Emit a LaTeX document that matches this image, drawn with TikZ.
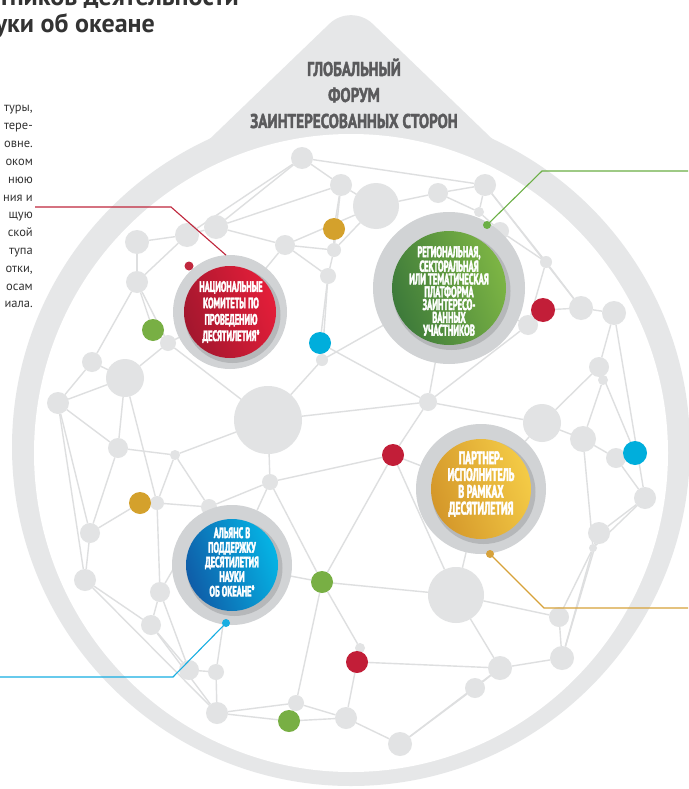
\documentclass[tikz,border=0pt]{standalone}
\usepackage{fontspec}
\setmainfont{PT Sans}
\newfontfamily\cndA{PT Sans Bold}[FakeStretch=0.76, FakeBold=2]
\newfontfamily\cndB{PT Sans Bold}[FakeStretch=0.55, FakeBold=2.5]
\newfontfamily\ttlfont{PT Sans Bold}
\definecolor{band}{HTML}{E6E7E8}
\definecolor{edgec}{HTML}{DEDFE0}
\definecolor{nodec}{HTML}{E2E3E4}
\definecolor{ringc}{HTML}{D1D3D5}
\definecolor{shadowc}{HTML}{9A9C9F}
\definecolor{darktext}{HTML}{333333}
\definecolor{peaktext}{HTML}{5A5A5C}
\definecolor{redA}{HTML}{A3172E}\definecolor{redB}{HTML}{E41E39}
\definecolor{greenA}{HTML}{3D7A3A}\definecolor{greenB}{HTML}{7DB544}
\definecolor{goldA}{HTML}{D4972A}\definecolor{goldB}{HTML}{F4CB46}
\definecolor{blueA}{HTML}{0F5DA8}\definecolor{blueB}{HTML}{05B4E5}
\definecolor{dotgold}{HTML}{D4A12C}
\definecolor{dotgreen}{HTML}{78AF44}
\definecolor{dotblue}{HTML}{00AEDC}
\definecolor{dotred}{HTML}{C21E38}
\definecolor{conred}{HTML}{C0273D}
\definecolor{congreen}{HTML}{6BAF45}
\definecolor{congold}{HTML}{D7A23A}
\definecolor{conblue}{HTML}{17AEE2}
\pgfdeclarelayer{bandlayer}
\pgfdeclarelayer{edgelayer}
\pgfsetlayers{bandlayer,edgelayer,main}
\tikzset{
  gn/.style={circle, fill=nodec, inner sep=0pt, outer sep=0pt},
  cdot/.style={circle, inner sep=0pt, outer sep=0pt},
  edge/.style={draw=edgec, line width=1.4pt},
  ringdisk/.style={circle, fill=ringc, inner sep=0pt, outer sep=0pt},
  shadowdisk/.style={fill=shadowc, opacity=0.5},
  nodetext/.style={text=white, align=center, inner sep=0pt},
  connector/.style={line width=1.1pt},
  para/.style={text=darktext, font=\fontsize{12.5pt}{17.8pt}\selectfont, inner sep=0pt},
  titletext/.style={text=darktext, font=\ttlfont\fontsize{26pt}{28pt}\selectfont, inner sep=0pt},
  peaklabel/.style={text=peaktext, font=\cndA\fontsize{20pt}{26pt}\selectfont, inner sep=0pt},
}
\begin{document}
\begin{tikzpicture}[x=1pt, y=-1pt]
\useasboundingbox (0,0) rectangle (688,789);
\clip (0,0) rectangle (688,789);
\begin{pgfonlayer}{bandlayer}
\fill[white] (0,0) rectangle (688,789);
\fill[band] (351,447) circle[radius=339pt];
\fill[band, rounded corners=30pt] (84,260) -- (351,3) -- (618,260) -- cycle;
\fill[white] (351,453) ellipse[x radius=317pt, y radius=319pt];
\end{pgfonlayer}
% network nodes
\foreach \n/\x/\y/\r in {
 a1/302/158/11, a2/341/185/11, a3/376/206/23, a4/438/193/10, a5/485/185/11, a6/479/212/5, a7/500/231/9,
 b1/216/227/12, b2/187/235/12, b3/137/242/12, b4/285/245/10, b5/334/250/7, b6/328/276/8, b7/546/262/6,
 c1/137/282/11, c2/168/343/8, c3/125/378/19, c4/92/362/10, c5/58/403/11, c6/118/448/10, c7/175/455/5,
 c8/157/503/7, c9/209/507/8, c10/90/533/10, c11/85/580/11, c12/160/592/10, c13/151/625/10,
 d1/528/325/10, d2/581/308/12, d3/614/313/12, d4/599/367/10, d5/603/380/5,
 e1/322/360/6, e2/268/420/34, e3/270/482/8, e4/428/402/9, e5/542/423/19, e6/583/439/13, e7/616/458/10,
 e8/645/498/11, e9/599/533/11, e10/593/548/4,
 f1/189/670/10, f2/216/672/8, f3/217/713/11, f4/296/703/8, f5/346/718/11, f6/400/744/12, f7/456/595/28,
 f8/360/648/5, f9/500/668/12, f10/475/688/10, f11/559/617/10, f12/562/658/12}
  \node[gn, minimum size={2*\r*1pt}] (\n) at (\x,\y) {};
% coloured dots
\foreach \n/\x/\y/\r/\c in {
 gold1/334/229/11/dotgold, green1/153/330/11/dotgreen, blue1/320/343/11/dotblue,
 red1/543/310/12/dotred, red2/393/455/11/dotred, blue2/635/453/12/dotblue,
 gold2/140/503/11/dotgold, green2/322/582/11/dotgreen, red3/357/662/11/dotred, green3/289/721/11/dotgreen}
  \node[cdot, fill=\c, minimum size={2*\r*1pt}] (\n) at (\x,\y) {};
% main node discs
\node[ringdisk, minimum size=114pt] (redring) at (230,312) {};
\node[ringdisk, minimum size=152pt] (greenring) at (449,288) {};
\node[ringdisk, minimum size=130pt] (goldring) at (481,489) {};
\node[ringdisk, minimum size=120pt] (bluering) at (232,565) {};
% edges
\begin{pgfonlayer}{edgelayer}
\foreach \u/\v in {
 a1/a2, a1/a5, a1/b1, a1/b2, a2/a3, a2/b1, a2/b5, a3/a4, a3/b5, a4/a5, a4/a6, a5/a6, a6/a7, a5/b7, a5/d2, a7/b7,
 b1/b2, b2/b3, b1/b4, b4/b5, b5/b6, b4/b6, b6/e1, b6/blue1, e1/blue1, b3/c1, b2/c1, c1/c2, c1/c4, c1/green1,
 green1/c2, c2/c3, c3/c4, c4/c5, c3/c5, c3/c6, c5/c6, c5/c10, c5/c11, c6/c7, c6/c10, c3/c8, c7/e2, c7/c8,
 c7/c9, c8/c9, c8/gold2, gold2/c10, c10/c11, c8/c12, c11/c13, c12/c13, c13/f1, c13/f3, c11/f3, f1/f2, f2/f3,
 f3/f4, f3/green3, f4/green3, green3/f5, f5/f6, f4/f5, f4/green2, green2/e3, green2/f7, green2/f8, green2/red2,
 f8/red3, red3/f5, red3/f9, f7/f9, f7/f11, f7/red2, f9/f10, f9/f12, f11/f12, f11/e10, f12/e10, f12/e9, f10/f6,
 f6/f9, e9/e10, e9/e8, e8/e7, e7/blue2, e7/e6, e6/e5, e6/e10, e5/e4, e4/red2, e4/e2, e4/blue1, red2/e3, e2/e3,
 e2/e1, e2/c2, e3/c9, d1/red1, red1/d2, d2/d3, d3/d4, d4/d5, d5/e6, d3/e8, d2/b7, b7/d1, d1/e4, d4/blue2,
 e8/e10, e5/d4, gold1/b5, gold1/a2, a3/b4, c12/c9, c12/f1,
 b4/redring, c2/redring, e3/bluering, c9/bluering, e4/greenring, d1/greenring, e5/goldring, f7/goldring,
 red2/goldring, green2/bluering, f2/bluering, e1/greenring}
  \draw[edge] (\u) -- (\v);
\end{pgfonlayer}
% inner coloured discs
\foreach \ring/\r/\ca/\cb in {redring/46/redA/redB, greenring/57/greenA/greenB, goldring/50/goldA/goldB, bluering/46/blueA/blueB}{
  \fill[shadowdisk] ([shift={(2.5,3)}]\ring.center) circle[radius={(\r+2)*1pt}];
  \shade[left color=\ca, right color=\cb, shading angle=110] (\ring.center) circle[radius={\r*1pt}];
}
% node texts
\node[nodetext, font=\cndB\fontsize{15pt}{16.4pt}\selectfont] (redtxt) at (231,312)
  {НАЦИОНАЛЬНЫЕ\\КОМИТЕТЫ ПО\\ПРОВЕДЕНИЮ\\ДЕСЯТИЛЕТИЯ*};
\node[nodetext, font=\cndB\fontsize{15.5pt}{12.8pt}\selectfont] (greentxt) at (449,291)
  {РЕГИОНАЛЬНАЯ,\\СЕКТОРАЛЬНАЯ\\ИЛИ ТЕМАТИЧЕСКАЯ\\ПЛАТФОРМА\\ЗАИНТЕРЕСО-\\ВАННЫХ\\УЧАСТНИКОВ};
\node[nodetext, font=\cndB\fontsize{18pt}{16.8pt}\selectfont] (goldtxt) at (481,484)
  {ПАРТНЕР-\\ИСПОЛНИТЕЛЬ\\В РАМКАХ\\ДЕСЯТИЛЕТИЯ};
\node[nodetext, font=\cndB\fontsize{15pt}{14.6pt}\selectfont] (bluetxt) at (232,562)
  {АЛЬЯНС В\\ПОДДЕРЖКУ\\ДЕСЯТИЛЕТИЯ\\НАУКИ\\ОБ ОКЕАНЕ*};
% connectors
\node[cdot, fill=conred, minimum size=9pt] (rdot) at (189,266) {};
\node[cdot, fill=congreen, minimum size=8pt] (gdot) at (487,225) {};
\node[cdot, fill=congold, minimum size=8pt] (odot) at (490,554) {};
\node[cdot, fill=conblue, minimum size=8pt] (bdot) at (226,623) {};
\coordinate (rA) at (35,207); \coordinate (rB) at (171,207);
\coordinate (gB) at (542,171); \coordinate (gA) at (690,171);
\coordinate (oB) at (544,608); \coordinate (oA) at (690,608);
\coordinate (bB) at (173,677); \coordinate (bA) at (-2,677);
\draw[connector, conred] (rA) -- (rB) -- (redring.94);
\draw[connector, congreen] (gdot.center) -- (gB) -- (gA);
\draw[connector, congold] (odot.center) -- (oB) -- (oA);
\draw[connector, conblue] (bdot.center) -- (bB) -- (bA);
% peak label
\node[peaklabel, anchor=base] (pk1) at (354,76) {ГЛОБАЛЬНЫЙ};
\node[peaklabel, anchor=base] (pk2) at (354,102) {ФОРУМ};
\node[peaklabel, anchor=base] (pk3) at (354,128) {ЗАИНТЕРЕСОВАННЫХ СТОРОН};
% title fragments
\node[titletext, anchor=base east] (t1) at (239,6) {тников деятельности};
\node[titletext, anchor=base east] (t2) at (155,33) {уки об океане};
% paragraph fragments
\foreach \t [count=\i] in {{туры,},{тере-},{овне.},{оком},{нюю},{ния и},{щую},{ской},{тупа},{отки,},{осам},{иала.}}
  \node[para, anchor=base east] (p\i) at (33,{112+17.8*(\i-1)}) {\t};
\end{tikzpicture}
\end{document}
